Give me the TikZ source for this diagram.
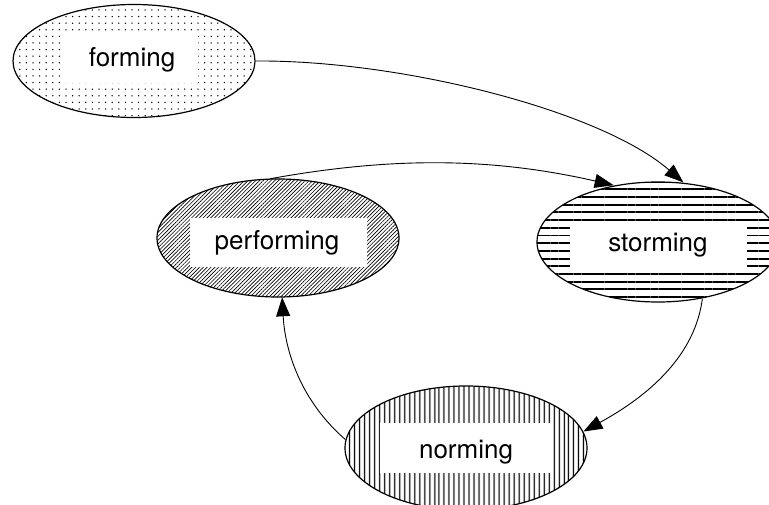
\documentclass[tikz,border=0pt]{standalone}
\usepackage{fontspec}
\setmainfont{TeX Gyre Heros}
\usetikzlibrary{shapes.geometric,patterns.meta,arrows.meta}

\begin{document}
\begin{tikzpicture}[x=1pt,y=-1pt,
  stage/.style={ellipse, draw=black, line width=1.2pt, inner sep=0pt,
    minimum width=242pt},
  namebox/.style={fill=white, inner sep=0pt},
  stagename/.style={anchor=base, inner sep=0pt, font=\fontsize{26}{30}\selectfont},
  link/.style={line width=0.9pt, -{Triangle[length=19pt,width=14pt]}}
]
\useasboundingbox (0,0) rectangle (769,505);

% the four stages, each with its own fill pattern
\node[stage, minimum height=113pt,
  pattern={Dots[distance=6.6pt,radius=0.75pt]}] (forming) at (134,61) {};
\node[stage, minimum height=118pt,
  pattern={Lines[angle=45,distance=2.7pt,line width=0.65pt]}] (performing) at (278,238) {};
\node[stage, minimum height=120pt,
  pattern={Lines[angle=0,distance=7.7pt,line width=1.9pt]}] (storming) at (658,242) {};
\node[stage, minimum height=124pt,
  pattern={Lines[angle=90,distance=5.4pt,line width=1.5pt]}] (norming) at (466,448) {};

% white label panels
\node[namebox, minimum width=136pt, minimum height=48pt] (formingbox) at (130,59.5) {};
\node[namebox, minimum width=177pt, minimum height=49pt] (performingbox) at (278.5,242.5) {};
\node[namebox, minimum width=177pt, minimum height=48pt] (stormingbox) at (658.5,246) {};
\node[namebox, minimum width=173pt, minimum height=50pt] (normingbox) at (466.5,448) {};

% stage names
\node[stagename] (formingtext) at (132,67) {forming};
\node[stagename] (performingtext) at (277,250) {performing};
\node[stagename] (stormingtext) at (658,251.7) {storming};
\node[stagename] (normingtext) at (466,458) {norming};

% transitions
\draw[link] (forming.0) .. controls (400,60) and (600,110) .. (storming.67);
\draw[link] (performing.98) .. controls (390,157) and (490,157) .. (storming.128);
\draw[link] (storming.-52) .. controls (695,355) and (650,395) .. (norming.8);
\draw[link] (norming.176) .. controls (300,400) and (285,350) .. (performing.-86);
\end{tikzpicture}
\end{document}
